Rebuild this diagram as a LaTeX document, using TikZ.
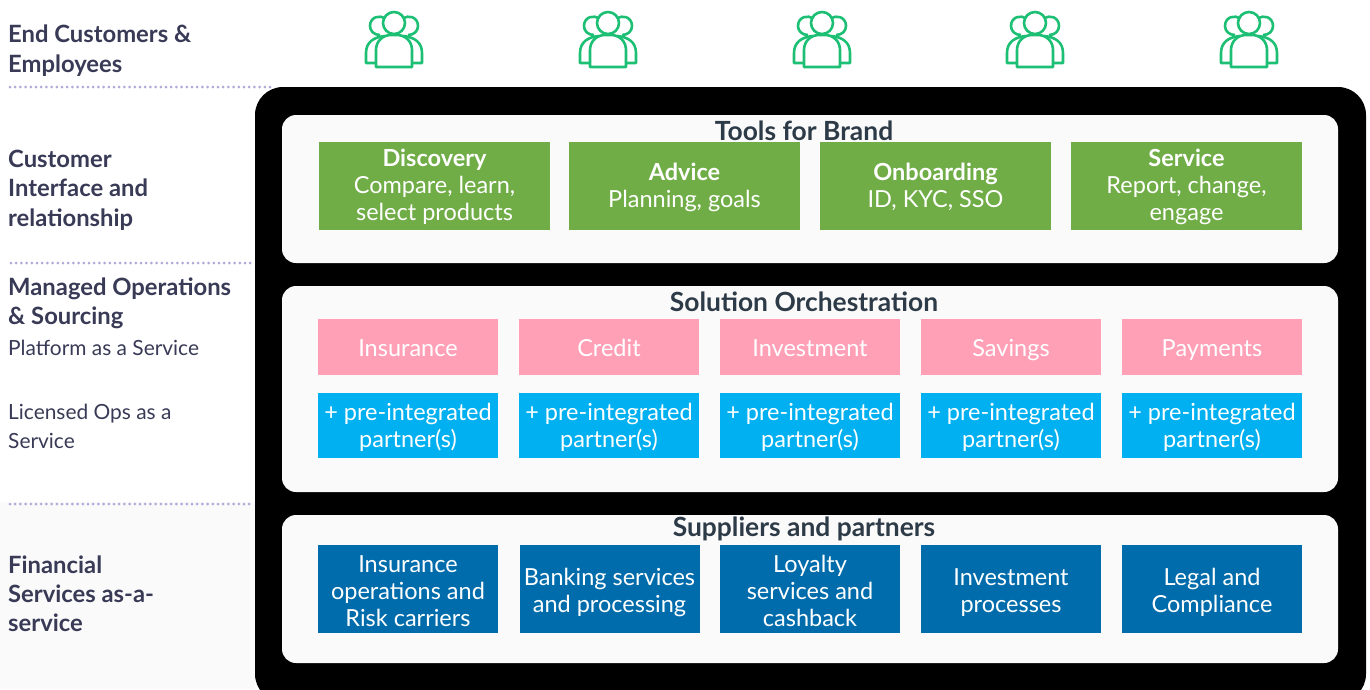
\documentclass[tikz,border=0pt]{standalone}
\usepackage{fontspec}
\setmainfont{Lato}
\usetikzlibrary{positioning}

\definecolor{inkc}{HTML}{383A56}
\definecolor{titlec}{HTML}{2D3A47}
\definecolor{dotc}{HTML}{B0A8D8}
\definecolor{panelc}{HTML}{FAFAFA}
\definecolor{greenc}{HTML}{70AD47}
\definecolor{pinkc}{HTML}{FFA0B7}
\definecolor{skyc}{HTML}{00B0F0}
\definecolor{bluec}{HTML}{006CAB}
\definecolor{iconc}{HTML}{1CBF73}

\tikzset{
  sidelabel/.style={anchor=north west,inner sep=0pt,align=left,text=inkc,font=\fontsize{23.8}{29.3}\selectfont\bfseries},
  sidenote/.style={anchor=north west,inner sep=0pt,align=left,text=inkc,font=\fontsize{20.9}{29}\selectfont},
  paneltitle/.style={inner sep=0pt,text=titlec,font=\fontsize{26.4}{28}\selectfont\bfseries},
  panelbox/.style={fill=panelc,rounded corners=14pt},
  cellbox/.style={inner sep=0pt,align=center,text=white,font=\fontsize{23.5}{27}\selectfont,text depth=0pt},
  toolbox/.style={cellbox,fill=greenc,minimum width=231pt,minimum height=88pt,text height=68pt},
  linebox/.style={cellbox,fill=pinkc,minimum width=180pt,minimum height=56pt,text height=18pt},
  partnerbox/.style={cellbox,fill=skyc,minimum width=180pt,minimum height=65pt,text height=43pt},
  supplybox/.style={cellbox,fill=bluec,minimum width=180pt,minimum height=88pt,text height=74pt},
  dotline/.style={draw=dotc,line width=3pt,line cap=round,dash pattern=on 0pt off 5.2pt},
  iconline/.style={draw=iconc,line width=2.6pt,line join=round}
}

\begin{document}
\begin{tikzpicture}[x=1pt,y=-1pt]
\useasboundingbox (0,0) rectangle (1370,689);
\fill [panelc] (0,502) rectangle (255,689);

% dotted rules
\draw [dotline] (10,87) -- (270,87);
\draw [dotline] (11,263) -- (254,263);
\draw [dotline] (10,504) -- (254,504);

% row labels
\node [sidelabel] (lcust) at (8,25) {End Customers \&\\Employees};
\node [sidelabel] (lface) at (8,150) {Customer\\Interface and\\relationship};
\node [sidelabel] (lops) at (8,277.5) {Managed Operations\\\& Sourcing};
\node [sidenote] (lplat) at (8,340) {Platform as a Service};
\node [sidenote] (llic) at (8,404) {Licensed Ops as a\\Service};
\node [sidelabel] (lfin) at (8,555.5) {Financial\\Services as-a-\\service};

% people
\foreach \x in {394,608,822,1035,1249} {
  \begin{scope}[shift={(\x,0)}]
    \draw [iconline] (-9,36) .. controls (-20,37) and (-28,42) .. (-28,53) -- (-28,63) -- (-18,63);
    \draw [iconline] (9,36) .. controls (20,37) and (28,42) .. (28,53) -- (28,63) -- (18,63);
    \draw [iconline] (-9,19) .. controls (-14,14) and (-24,17) .. (-24,26) .. controls (-24,31) and (-20,35) .. (-14,35);
    \draw [iconline] (9,19) .. controls (14,14) and (24,17) .. (24,26) .. controls (24,31) and (20,35) .. (14,35);
    \draw [iconline] (-18,67) -- (-18,50) .. controls (-18,41) and (-11,35) .. (-3,35) -- (3,35) .. controls (11,35) and (18,41) .. (18,50) -- (18,67) -- cycle;
    \draw [iconline] (0,23) circle (11);
  \end{scope}
}

% main frame
\fill [black,rounded corners=28pt] (255,87) rectangle (1366,702);

\fill [panelbox] (282,115) rectangle (1338,263);
\fill [panelbox] (282,286) rectangle (1338,492);
\fill [panelbox] (282,515) rectangle (1338,663);

\node [paneltitle] (ttools) at (804,130.5) {Tools for Brand};
\node [paneltitle] (tsol) at (804,301.5) {Solution Orchestration};
\node [paneltitle] (tsup) at (804,528.5) {Suppliers and partners};

% tools for brand
\node [toolbox] (discovery) at (434.5,186) {\textbf{Discovery}\\Compare, learn,\\select products};
\node [toolbox,text height=42pt] (advice) at (684.5,186) {\textbf{Advice}\\Planning, goals};
\node [toolbox,text height=42pt] (onboarding) at (935.5,186) {\textbf{Onboarding}\\ID, KYC, SSO};
\node [toolbox] (service) at (1186.5,186) {\textbf{Service}\\Report, change,\\engage};

% solution orchestration
\node [linebox] (insurance) at (408,347) {Insurance};
\node [linebox] (credit) at (609,347) {Credit};
\node [linebox] (investment) at (810,347) {Investment};
\node [linebox] (savings) at (1011,347) {Savings};
\node [linebox] (payments) at (1212,347) {Payments};
\foreach \x/\n in {408/a,609/b,810/c,1011/d,1212/e}
  \node [partnerbox] (partner\n) at (\x,425.5) {+ pre-integrated\\partner(s)};

% suppliers and partners
\node [supplybox] (carriers) at (408,589) {Insurance\\operations and\\Risk carriers};
\node [supplybox,text height=46pt] (banking) at (609.5,589) {Banking services\\and processing};
\node [supplybox] (loyalty) at (810,589) {Loyalty\\services and\\cashback};
\node [supplybox,text height=46pt] (processes) at (1011,589) {Investment\\processes};
\node [supplybox,text height=46pt] (legal) at (1212,589) {Legal and\\Compliance};
\end{tikzpicture}
\end{document}
